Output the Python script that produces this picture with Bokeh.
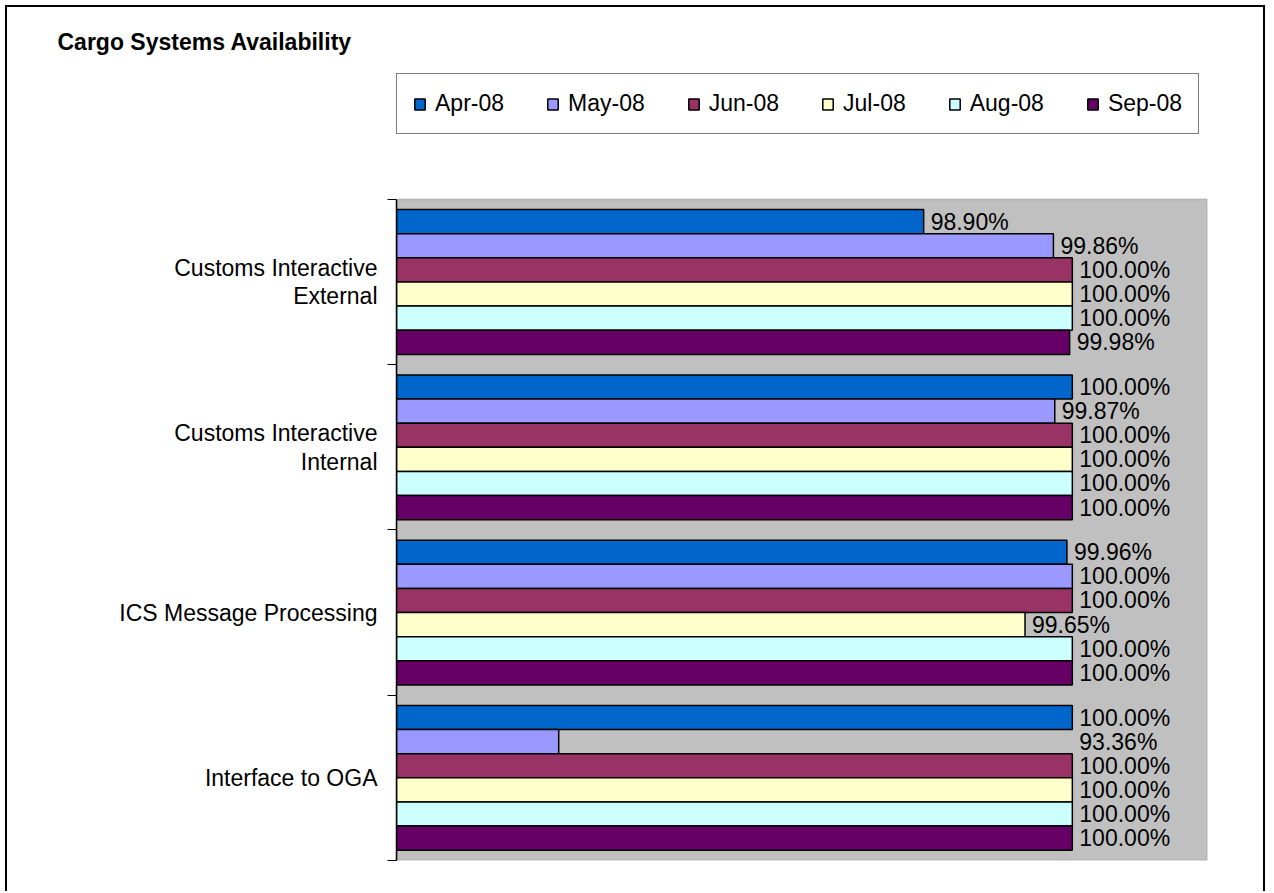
from bokeh.plotting import figure
from bokeh.models import (ColumnDataSource, Range1d, FixedTicker, Legend, LegendItem,
                          BoxAnnotation)
from bokeh.transform import dodge
from bokeh.core.properties import value
from bokeh.embed import file_html
from bokeh.resources import INLINE

# ---------------- data ----------------
categories = ["Customs Interactive\nExternal", "Customs Interactive\nInternal",
              "ICS Message Processing", "Interface to OGA"]
months = ["Apr-08", "May-08", "Jun-08", "Jul-08", "Aug-08", "Sep-08"]

# bar lengths as drawn (percent)
apr = [98.90, 100.00, 99.96, 100.00]
may = [99.86, 99.87, 100.00, 96.20]
jun = [100.00, 100.00, 100.00, 100.00]
jul = [100.00, 100.00, 99.65, 100.00]
aug = [100.00, 100.00, 100.00, 100.00]
sep = [99.98, 100.00, 100.00, 100.00]

# data labels as printed on the chart
apr_lbl = ["98.90%", "100.00%", "99.96%", "100.00%"]
may_lbl = ["99.86%", "99.87%", "100.00%", "93.36%"]
jun_lbl = ["100.00%", "100.00%", "100.00%", "100.00%"]
jul_lbl = ["100.00%", "100.00%", "99.65%", "100.00%"]
aug_lbl = ["100.00%", "100.00%", "100.00%", "100.00%"]
sep_lbl = ["99.98%", "100.00%", "100.00%", "100.00%"]

colors = ["#0066CC", "#9999FF", "#993366", "#FFFFCC", "#CCFFFF", "#660066"]
X_MIN, X_MAX = 95.0, 101.0
# label moved by hand in the original (sits at the 100% column)
label_x_override = {(1, 3): 100.0}

series = [apr, may, jun, jul, aug, sep]
labels = [apr_lbl, may_lbl, jun_lbl, jul_lbl, aug_lbl, sep_lbl]

FONT = "Liberation Sans"
W, H = 1260, 886
N = len(categories)
LEGEND_BAND = 0.7613   # room above the plot area (in category units) for the legend

p = figure(width=W, height=H, output_backend="svg", toolbar_location=None,
           x_range=Range1d(X_MIN, X_MAX), y_range=Range1d(N, -LEGEND_BAND),
           min_border_left=389, min_border_right=60, min_border_top=65,
           min_border_bottom=33,
           title="Cargo Systems Availability")
p.background_fill_color = "white"
p.border_fill_color = "white"
p.outline_line_color = None
p.xgrid.visible = False
p.ygrid.visible = False
p.xaxis.visible = False
p.styles = {"border": "2px solid black", "border-bottom": "none",
            "margin": "5px 0px 0px 5px"}

p.title.align = "left"
p.title.offset = -339
p.title.standoff = 38
p.title.text_font = FONT
p.title.text_font_size = "23px"
p.title.text_font_style = "bold"
p.title.text_color = "black"

# grey plot area
p.add_layout(BoxAnnotation(left=X_MIN, right=X_MAX, top=0, bottom=N,
                           fill_color="#C0C0C0", fill_alpha=1.0,
                           line_color="#808080", line_width=2, level="underlay"))

pos = [i + 0.5 for i in range(N)]
bar_h = 0.146
items = []
for j, (vals, lbls) in enumerate(zip(series, labels)):
    lx = [label_x_override.get((j, i), v) for i, v in enumerate(vals)]
    src = ColumnDataSource(dict(pos=pos, val=vals, lbl=lbls, lx=lx))
    off = (j - (len(series) - 1) / 2) * bar_h
    r = p.hbar(y=dodge("pos", off), left=X_MIN, right="val", height=bar_h, source=src,
               fill_color=colors[j], line_color="black", line_width=1.5)
    p.text(x="lx", y=dodge("pos", off), text="lbl", source=src, x_offset=7,
           text_baseline="middle", text_align="left", text_font=value(FONT),
           text_font_size="23px", text_color="black")
    items.append(LegendItem(label=months[j], renderers=[r]))

ax = p.yaxis[0]
ax.bounds = (0, N)
ax.ticker = FixedTicker(ticks=pos, minor_ticks=list(range(N + 1)))
ax.major_label_overrides = {pp: c for pp, c in zip(pos, categories)}
ax.major_tick_line_color = None
ax.major_tick_out = 9
ax.major_tick_in = 0
ax.minor_tick_out = 9
ax.minor_tick_in = 0
ax.minor_tick_line_color = "black"
ax.minor_tick_line_width = 1
ax.axis_line_color = "black"
ax.axis_line_width = 1.5
ax.major_label_standoff = 10
ax.major_label_text_font = FONT
ax.major_label_text_font_size = "23px"
ax.major_label_text_color = "black"
ax.major_label_text_line_height = 1.1

legend = Legend(items=items, orientation="horizontal", location="top_left",
                label_text_font=FONT, label_text_font_size="23px",
                label_text_color="black", glyph_width=13, glyph_height=14,
                label_standoff=9, spacing=42, padding=16, margin=0,
                border_line_color="black", border_line_width=1.5,
                background_fill_color="white", background_fill_alpha=1.0)
p.add_layout(legend)

open("out.html", "w").write(file_html(p, INLINE))
